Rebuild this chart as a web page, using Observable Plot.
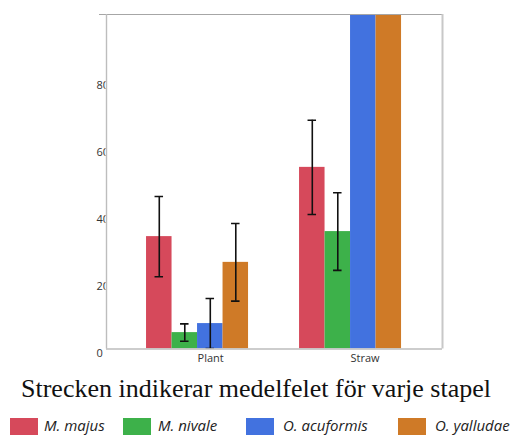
<!DOCTYPE html>
<html>
<head>
<meta charset="utf-8">
<script src="https://cdn.jsdelivr.net/npm/d3@7"></script>
<script src="https://cdn.jsdelivr.net/npm/@observablehq/plot@0.6"></script>
<style>
  html, body { margin: 0; padding: 0; background: #fff; width: 512px; height: 435px; overflow: hidden; position: relative; }
  #chart svg { display: block; }
  #caption { position: absolute; left: 0; top: 374px; width: 512px; font-family: "Liberation Serif", "Times New Roman", serif; font-size: 26px; color: #111; text-align: center; line-height: 30px; white-space: nowrap; }
  #legend { position: absolute; left: 0; top: 417px; width: 512px; height: 18px; font-family: "Open Sans", sans-serif; font-style: italic; font-size: 15px; color: #222; }
  .sw { position: absolute; top: 1px; width: 28px; height: 17px; }
  .lab { position: absolute; top: 0; line-height: 16px; white-space: nowrap; }
</style>
</head>
<body>
<div id="chart"></div>
<div id="caption">Strecken indikerar medelfelet för varje stapel</div>
<div id="legend"></div>
<script>
const groups = ["Plant", "Straw"];
const species = ["M. majus", "M. nivale", "O. acuformis", "O. yalludae"];
const colors = ["#d6495b", "#3db14a", "#4272df", "#cf7a27"];
const plantMeans = [33.6, 4.9, 7.6, 25.9];
const plantErrors = [12.0, 2.6, 7.5, 11.6];
const strawMeans = [54.3, 35.1, 130, 140];
const strawErrors = [14.1, 11.6, 15, 15];
const yTicks = [0, 20, 40, 60, 80];
const swatchX = [10, 123, 246, 398];
const labelX = [44, 158, 283, 435];

const means = [plantMeans, strawMeans];
const errors = [plantErrors, strawErrors];
const data = [];
groups.forEach((g, gi) => species.forEach((s, si) => {
  data.push({group: g, gi, species: s, si, mean: means[gi][si], se: errors[gi][si]});
}));

const barW = 1 / 6;            // each bar is 1/6 of the group step
const xc = d => d.gi + (d.si - 1.5) * barW;
const xDomain = [-0.595, 1.601];

const plot = Plot.plot({
  width: 512,
  height: 370,
  marginLeft: 106,
  marginRight: 70,
  marginTop: 14,
  marginBottom: 21.5,
  style: {fontFamily: "'Open Sans', sans-serif", fontSize: "11px", color: "#333", background: "#fff"},
  x: {domain: xDomain, axis: null},
  y: {domain: [0, 100], axis: null},
  color: {domain: species, range: colors},
  marks: [
    Plot.rectY(data, {x1: d => d.gi + (d.si - 2) * barW, x2: d => d.gi + (d.si - 1) * barW, y1: 0, y2: "mean", fill: "species", clip: true}),
    Plot.ruleX(data, {x: xc, y1: d => Math.max(0, d.mean - d.se), y2: d => d.mean + d.se, stroke: "#111", strokeWidth: 1.6, clip: true}),
    Plot.ruleY(data, {y: d => d.mean + d.se, x1: d => xc(d) - barW / 6, x2: d => xc(d) + barW / 6, stroke: "#111", strokeWidth: 1.6, clip: true}),
    Plot.ruleY(data.filter(d => d.mean - d.se > 0), {y: d => d.mean - d.se, x1: d => xc(d) - barW / 6, x2: d => xc(d) + barW / 6, stroke: "#111", strokeWidth: 1.6, clip: true}),
    Plot.ruleY([100], {stroke: "#a6a6a6", strokeWidth: 1.2, insetLeft: -7}),
    Plot.ruleY([0], {stroke: "#bdbdbd", strokeWidth: 1.6}),
    Plot.ruleX([xDomain[0]], {stroke: "#bdbdbd", strokeWidth: 1.4}),
    Plot.ruleX([xDomain[1]], {stroke: "#c8c8c8", strokeWidth: 2}),
    Plot.text(yTicks, {y: d => d, text: d => String(d), frameAnchor: "left", textAnchor: "start", dx: -10, dy: 4, fill: "#333", className: "ylab"}),
    Plot.text(groups, {x: (d, i) => i, text: d => d, frameAnchor: "bottom", textAnchor: "start", lineAnchor: "middle", dy: 9, fill: "#333"})
  ]
});
document.getElementById("chart").appendChild(plot);

// clip y tick labels at the axis line, as in the reference
const svgNS = "http://www.w3.org/2000/svg";
const defs = document.createElementNS(svgNS, "defs");
const cp = document.createElementNS(svgNS, "clipPath");
cp.setAttribute("id", "ylabclip");
cp.setAttribute("clipPathUnits", "userSpaceOnUse");
const r = document.createElementNS(svgNS, "rect");
r.setAttribute("x", 0); r.setAttribute("y", 0); r.setAttribute("width", 105.5); r.setAttribute("height", 370);
cp.appendChild(r); defs.appendChild(cp); plot.insertBefore(defs, plot.firstChild);
const yl = plot.querySelector(".ylab");
if (yl) {
  const wrap = document.createElementNS(svgNS, "g");
  wrap.setAttribute("clip-path", "url(#ylabclip)");
  yl.parentNode.insertBefore(wrap, yl);
  wrap.appendChild(yl);
}

const legend = document.getElementById("legend");
species.forEach((s, i) => {
  const sw = document.createElement("div");
  sw.className = "sw";
  sw.style.left = swatchX[i] + "px";
  sw.style.background = colors[i];
  const lab = document.createElement("div");
  lab.className = "lab";
  lab.style.left = labelX[i] + "px";
  lab.textContent = s;
  legend.appendChild(sw); legend.appendChild(lab);
});
</script>
</body>
</html>
